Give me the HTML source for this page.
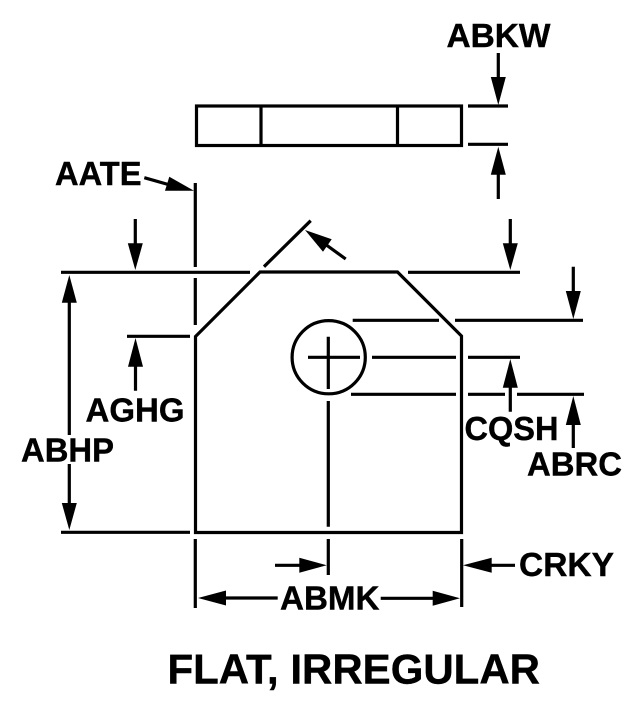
<!DOCTYPE html>
<html>
<head>
<meta charset="utf-8">
<style>
html,body{margin:0;padding:0;background:#fff;width:640px;height:702px;overflow:hidden}
svg{display:block}
text{font-family:"Liberation Sans",Arial,sans-serif;font-weight:bold;font-size:33.5px;fill:#000;stroke:#000;stroke-width:.4}
</style>
</head>
<body>
<svg width="640" height="702" viewBox="0 0 640 702" xmlns="http://www.w3.org/2000/svg">
<rect width="640" height="702" fill="#fff"/>
<g fill="none" stroke="#000" stroke-width="3.2">
<!-- top view -->
<rect x="196.5" y="106" width="265" height="39.5"/>
<path d="M261 106V145.5M397.5 106V145.5"/>
<!-- main outline -->
<path d="M195.5 532.5V336.5L260 272H397.5L461.5 336V532.5Z" stroke-linejoin="miter"/>
<!-- extension lines -->
<path d="M61 272.3H250M408 272.3H520"/>
<path d="M195.3 183V267M195.3 278V325"/>
<path d="M264 266.7L310.7 220.7"/>
<path d="M127 336.3H190"/>
<path d="M61 532.3H190"/>
<path d="M468 106H508M468 144.3H508"/>
<path d="M352.7 320.3H439M455 320.3H583"/>
<path d="M372 357.3H456M468 357.3H520"/>
<path d="M351 394.3H456M468 394.3H505M517 394.3H584"/>
<!-- hole -->
<circle cx="328.7" cy="357.2" r="36.6"/>
<path d="M308 357.3H360M328.3 336.7V389M328.3 401V526.7M328.3 539V575"/>
<path d="M195.3 539V608M461.7 539V607"/>
<!-- arrow shafts -->
<path d="M135.3 219V245M510.3 219V245M498.3 53V80M498.3 172V199M573.3 266.7V293"/>
<path d="M135.5 365V390.7M510.3 385V411.7M573.3 423V448"/>
<path d="M69.3 300V435M69.3 464V505"/>
<path d="M275 565.3H301M489 565.3H515M224 598H277.7M380.7 598.3H435"/>
<path d="M144.3 177.7L170 185M345.7 259L325 244"/>
</g>
<g fill="#000" stroke="none">
<!-- down arrows -->
<path d="M127.8 243.3H142.8L135.3 270Z"/>
<path d="M502.8 243.3H517.8L510.3 270Z"/>
<path d="M490.8 77H505.8L498.3 105Z"/>
<path d="M565.8 291H580.8L573.3 319Z"/>
<path d="M61.8 503H76.8L69.3 530Z"/>
<!-- up arrows -->
<path d="M490.8 174.7H505.8L498.3 146.7Z"/>
<path d="M128 366.7H143L135.5 338Z"/>
<path d="M502.8 387.7H517.8L510.3 359Z"/>
<path d="M565.8 425H580.8L573.3 396Z"/>
<path d="M61.8 302.7H76.8L69.3 275Z"/>
<!-- horizontal arrows -->
<path d="M299.3 557.8V572.8L326.7 565.3Z"/>
<path d="M491.7 557.8V572.8L463 565.3Z"/>
<path d="M226 590.5V605.5L198 598Z"/>
<path d="M432.7 590.8V605.8L460 598.3Z"/>
<!-- diagonal arrows -->
<path d="M194 190.7L169.3 176.7L165 190.7Z"/>
<path d="M305 230L331.7 239.3L323 251.7Z"/>
</g>
<text x="446.5" y="47" textLength="104" lengthAdjust="spacingAndGlyphs">ABKW</text>
<text x="55" y="185" textLength="86.5" lengthAdjust="spacingAndGlyphs">AATE</text>
<text x="85.5" y="421.7" textLength="99" lengthAdjust="spacingAndGlyphs">AGHG</text>
<text x="21" y="461.7" textLength="93" lengthAdjust="spacingAndGlyphs">ABHP</text>
<text x="464.5" y="440" textLength="94" lengthAdjust="spacingAndGlyphs">CQSH</text>
<text x="527" y="475.7" textLength="95" lengthAdjust="spacingAndGlyphs">ABRC</text>
<text x="519" y="576" textLength="95" lengthAdjust="spacingAndGlyphs">CRKY</text>
<text x="280" y="609.3" textLength="99.5" lengthAdjust="spacingAndGlyphs">ABMK</text>
<text x="167.5" y="683.3" textLength="372.5" lengthAdjust="spacingAndGlyphs" style="font-size:42px">FLAT, IRREGULAR</text>
</svg>
</body>
</html>
